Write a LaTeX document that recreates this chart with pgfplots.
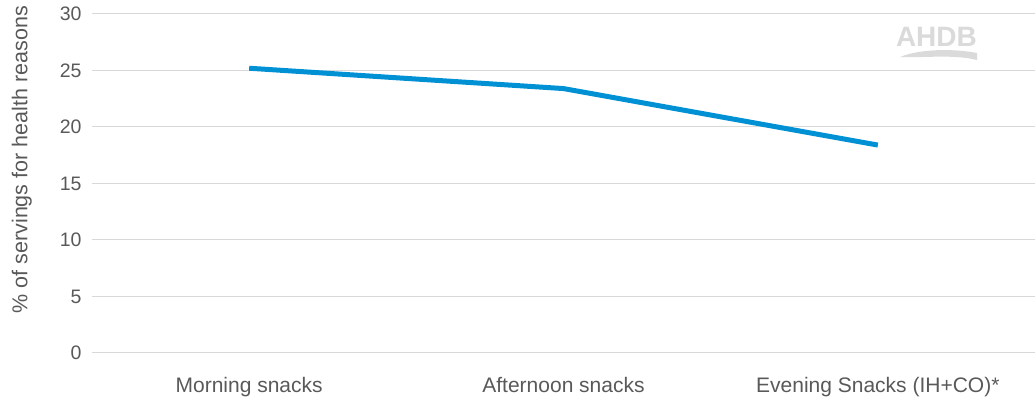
\documentclass[border=0pt]{standalone}
\usepackage{pgfplots}
\pgfplotsset{compat=1.18}
\usepackage{fontspec}
\setmainfont{Liberation Sans}
\definecolor{txtgray}{HTML}{595959}
\definecolor{gridgray}{HTML}{D9D9D9}
\definecolor{lineblue}{HTML}{0091D5}
\definecolor{logogray}{HTML}{DADADA}
\begin{document}
\begin{tikzpicture}
\useasboundingbox (0,0) rectangle (1035pt,403pt);
\begin{axis}[
  at={(92pt,50pt)}, anchor=south west,
  scale only axis,
  width=943pt, height=339pt,
  xmin=-0.5, xmax=2.5,
  ymin=0, ymax=30,
  ytick={0,5,...,30},
  xtick={0,1,2},
  xticklabels={Morning snacks, Afternoon snacks, Evening Snacks (IH+CO)*},
  axis line style={draw=none},
  major tick length=0pt,
  ymajorgrids,
  grid style={gridgray, line width=1pt},
  tick label style={font=\fontsize{19.5}{22}\selectfont, text=txtgray},
  /pgf/number format/assume math mode=true,
  yticklabel style={xshift=-7pt},
  xticklabel style={yshift=-21pt, font=\fontsize{21}{24}\selectfont},
  ylabel={\% of servings for health reasons},
  every axis y label/.style={at={(axis description cs:-0.0745,0.57)}, rotate=90, anchor=center,
    font=\fontsize{21.5}{24}\selectfont, text=txtgray},
  clip=false,
]
\addplot[lineblue, line width=5pt, line join=round] coordinates {
  (0,25.2) (1,23.4) (2,18.4)
};
% logo mark in the top right corner
\node[text=logogray, font=\fontsize{28}{30}\selectfont\bfseries, anchor=center, inner sep=0pt]
  at (axis description cs:0.8955,0.932) {AHDB};
\fill[logogray] (axis description cs:0.857,0.873)
  .. controls (axis description cs:0.875,0.895) and (axis description cs:0.91,0.9) .. (axis description cs:0.9385,0.885)
  -- (axis description cs:0.9385,0.864)
  .. controls (axis description cs:0.915,0.882) and (axis description cs:0.88,0.87) .. cycle;
\end{axis}
\end{tikzpicture}
\end{document}
